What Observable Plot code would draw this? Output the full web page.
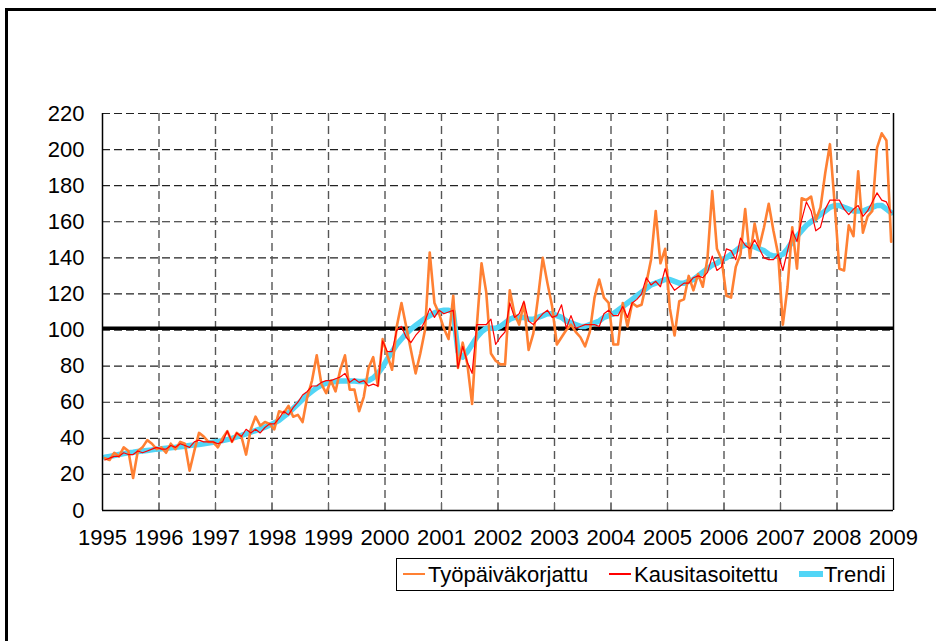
<!DOCTYPE html>
<html>
<head>
<meta charset="utf-8">
<script src="https://cdn.jsdelivr.net/npm/d3@7"></script>
<script src="https://cdn.jsdelivr.net/npm/@observablehq/plot@0.6"></script>
<style>
  html, body { margin: 0; padding: 0; background: #fff; }
  body { width: 936px; height: 641px; overflow: hidden; position: relative;
         font-family: "Liberation Sans", Arial, sans-serif; }
  #frame { position: absolute; left: 5px; top: 8px; width: 1000px; height: 1000px;
           border-left: 3px solid #000; border-top: 3px solid #000; }
  #chart { position: absolute; left: 0; top: 0; }
  #legend { position: absolute; left: 396px; top: 558px; width: 496px; height: 31px;
            border: 1px solid #000; background: #fff; }
  #legend .sw { position: absolute; top: 15px; }
  #legend .tx { position: absolute; top: 2px; font-size: 22px; line-height: 28px; color: #000; white-space: nowrap; }
</style>
</head>
<body>
<div id="frame"></div>
<div id="chart"></div>
<div id="legend"></div>
<script>
// Monthly values, January 1995 – December 2008
const tyopaivakorjattu = [
  29, 28, 32, 30, 35, 33, 18, 33, 35, 39, 37, 34,        // 1995
  35, 32, 37, 34, 38, 37, 22, 33, 43, 41, 38, 38,        // 1996
  35, 40, 44, 38, 43, 41, 31, 45, 52, 47, 49, 48,        // 1997
  45, 55, 54, 58, 52, 53, 49, 63, 72, 86, 70, 65,        // 1998
  72, 66, 78, 86, 67, 67, 55, 63, 79, 85, 69, 95,        // 1999
  86, 78, 102, 115, 102, 89, 76, 87, 100, 143, 115, 109, // 2000
  101, 95, 119, 79, 93, 81, 59, 102, 137, 121, 87, 83,   // 2001
  81, 81, 122, 109, 103, 115, 89, 98, 118, 140, 126, 113, // 2002
  92, 96, 100, 103, 99, 96, 91, 99, 118, 128, 118, 115,  // 2003
  92, 92, 115, 102, 115, 113, 114, 126, 139, 166, 137, 145, // 2004
  112, 97, 116, 117, 130, 122, 131, 124, 140, 177, 145, 139, // 2005
  119, 118, 135, 142, 167, 140, 159, 146, 157, 170, 155, 142, // 2006
  103, 124, 157, 134, 173, 172, 174, 161, 168, 187, 203, 170, // 2007
  134, 133, 158, 152, 188, 154, 163, 166, 201, 209, 205, 149  // 2008
];
const kausitasoitettu = [
  28, 29, 30, 30, 32, 31, 31, 33, 32, 33, 34, 35,
  34, 34, 36, 35, 37, 36, 35, 38, 39, 38, 38, 38,
  37, 38, 44, 38, 43, 41, 45, 43, 45, 43, 46, 48,
  48, 51, 55, 53, 57, 60, 64, 66, 69, 69, 71, 72,
  72, 73, 74, 76, 71, 73, 71, 72, 69, 70, 69, 94,
  88, 88, 100, 102, 96, 93, 97, 100, 105, 112, 107, 111,
  109, 110, 111, 79, 91, 82, 76, 103, 103, 103, 106, 92,
  96, 99, 115, 107, 109, 116, 105, 103, 106, 109, 111, 107,
  108, 114, 101, 108, 101, 102, 103, 103, 103, 102, 109, 111,
  108, 108, 113, 107, 115, 117, 120, 129, 125, 127, 124, 134,
  126, 122, 124, 126, 126, 129, 130, 129, 132, 141, 133, 135,
  145, 144, 139, 151, 147, 145, 150, 145, 140, 139, 139, 142,
  133, 144, 155, 149, 161, 171, 166, 155, 157, 167, 172, 172,
  172, 167, 164, 167, 169, 163, 166, 171, 176, 172, 171, 165
];
const trendi = [
  29.5, 30, 30.5, 31, 31.5, 32, 32.3, 32.7, 33, 33.3, 33.6, 34,
  34.2, 34.5, 34.8, 35, 35.3, 35.6, 36, 36.3, 36.6, 37, 37.4, 37.8,
  38.2, 38.7, 39.3, 40, 40.8, 41.6, 42.5, 43.4, 44.3, 45.2, 46.2, 47.3,
  48.5, 50, 52, 54, 56.5, 59, 61.5, 64, 66, 68, 69.5, 70.5,
  71, 71.5, 71.7, 71.8, 71.8, 71.7, 71.5, 71.5, 72, 73.5, 76, 79.5,
  84, 88, 92, 95, 98, 100.5, 102.5, 104.5, 106.5, 108, 109.5, 110.5,
  111, 111, 110, 88, 85, 88, 92, 96, 99, 101, 101, 101,
  102, 104, 106, 107, 107, 107, 106, 106, 107, 108, 109, 109,
  108, 107, 105, 104, 103, 102, 102, 103, 104, 105, 107, 108,
  109, 111, 113, 115, 117, 119, 121, 123, 125, 126, 127, 128,
  128, 127, 126, 126, 127, 128, 130, 132, 134, 136, 137, 139,
  140, 142, 144, 146, 147, 147, 146, 145, 144, 142, 141, 141,
  142, 145, 149, 152, 155, 158, 160, 162, 164, 166, 168, 169,
  169, 168, 167, 166, 166, 166, 167, 168, 169, 169, 167, 165
];
const startYear = 1995;
const xTicks = [1995, 1996, 1997, 1998, 1999, 2000, 2001, 2002, 2003, 2004, 2005, 2006, 2007, 2008, 2009];
const yTicks = [0, 20, 40, 60, 80, 100, 120, 140, 160, 180, 200, 220];
const referenceLevel = [101];
const seriesNames = ["Työpäiväkorjattu", "Kausitasoitettu", "Trendi"];
const seriesColors = ["#FF8033", "#FF0000", "#52D5F6"];

const data = tyopaivakorjattu.map((v, i) => ({
  t: startYear + (i + 0.5) / 12,
  o: v,
  r: kausitasoitettu[i],
  c: trendi[i]
}));

const innerX = xTicks.slice(1, -1);
const innerY = yTicks.slice(1);

const chart = Plot.plot({
  width: 936,
  height: 555,
  marginLeft: 102,
  marginRight: 43,
  marginTop: 113,
  marginBottom: 45,
  style: { fontFamily: "'Liberation Sans', Arial, sans-serif", fontSize: "22px", color: "#000", background: "transparent" },
  x: { domain: [xTicks[0], xTicks[xTicks.length - 1]], label: null },
  y: { domain: [yTicks[0], yTicks[yTicks.length - 1]], label: null },
  marks: [
    Plot.gridY(innerY, { stroke: "#222", strokeOpacity: 1, strokeWidth: 1.2, strokeDasharray: "8,4" }),
    Plot.gridX(innerX, { stroke: "#555", strokeOpacity: 1, strokeWidth: 1.4, strokeDasharray: "8,5" }),
    Plot.axisX(xTicks, { tickSize: -8, tickFormat: () => "", stroke: "#666", strokeWidth: 1, label: null }),
    Plot.axisX(xTicks, { tickSize: 0, tickPadding: 19, tickFormat: "d", fontSize: 22, label: null }),
    Plot.axisY(yTicks, { tickSize: 0, tickPadding: 18, fontSize: 22, label: null }),
    Plot.ruleY(referenceLevel, { stroke: "#000", strokeWidth: 3.5 }),
    Plot.line(data, { x: "t", y: "c", stroke: seriesColors[2], strokeWidth: 5.5 }),
    Plot.line(data, { x: "t", y: "o", stroke: seriesColors[0], strokeWidth: 2.6 }),
    Plot.line(data, { x: "t", y: "r", stroke: seriesColors[1], strokeWidth: 1.2 }),
    Plot.ruleX([xTicks[0]], { stroke: "#000", strokeWidth: 1.5 }),
    Plot.ruleX([xTicks[xTicks.length - 1]], { stroke: "#000", strokeWidth: 1.5 }),
    Plot.ruleY([yTicks[0]], { stroke: "#000", strokeWidth: 1.5 })
  ]
});
document.getElementById("chart").appendChild(chart);

// Legend (HTML, below the chart)
const legend = document.getElementById("legend");
const items = [
  { sw: [6, 22, 2.6], tx: 31 },
  { sw: [212, 22, 1.5], tx: 237 },
  { sw: [402, 24, 5.5], tx: 427 }
];
seriesNames.forEach((name, k) => {
  const s = document.createElement("div");
  s.className = "sw";
  s.style.left = items[k].sw[0] + "px";
  s.style.width = items[k].sw[1] + "px";
  s.style.height = items[k].sw[2] + "px";
  s.style.marginTop = (-items[k].sw[2] / 2) + "px";
  s.style.background = seriesColors[k];
  legend.appendChild(s);
  const t = document.createElement("div");
  t.className = "tx";
  t.style.left = items[k].tx + "px";
  t.textContent = name;
  legend.appendChild(t);
});
</script>
</body>
</html>
